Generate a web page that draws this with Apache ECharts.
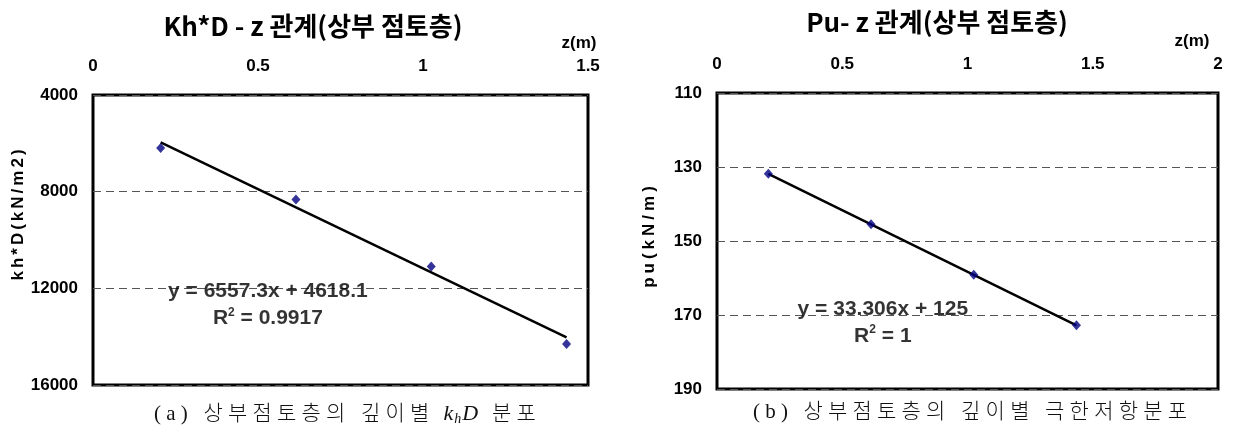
<!DOCTYPE html>
<html>
<head>
<meta charset="utf-8">
<script src="https://cdn.jsdelivr.net/npm/echarts@6/dist/echarts.min.js"></script>
<style>
  html, body { margin: 0; padding: 0; background: #fff; }
  #chart { width: 1234px; height: 439px; }
</style>
</head>
<body>
<div id="chart"></div>
<script>
// Depth of each measurement (m)
const zA = [0.205, 0.615, 1.025, 1.435];
const zB = [0.205, 0.615, 1.025, 1.435];
// kh*D (kN/m2) at each depth, upper clay layer
const khD = [6190, 8320, 11100, 14300];
// Ultimate resistance pu (kN/m) at each depth
const pu = [131.8, 145.5, 159.1, 172.8];
// Linear trend fits
const fitA = { slope: 6557.3, intercept: 4618.1, r2: '0.9917' };
const fitB = { slope: 33.306, intercept: 125, r2: '1' };
// Axis ticks
const zTicksA = { min: 0, max: 1.5, interval: 0.5 };
const zTicksB = { min: 0, max: 2, interval: 0.5 };
const khDTicks = { min: 4000, max: 16000, interval: 4000 };
const puTicks = { min: 110, max: 190, interval: 20 };

const titles = ['Kh*D - z 관계(상부 점토층)', 'Pu- z 관계(상부 점토층)'];
const yNames = ['kh*D(kN/m2)', 'pu(kN/m)'];

const sans = '"Liberation Sans", Arial, "Noto Sans CJK KR", sans-serif';
const titleFont = '"Noto Sans CJK KR", "Liberation Sans", sans-serif';
const serif = '"Liberation Serif", "Noto Sans CJK KR", serif';

function pairs(xs, ys) { return xs.map((x, i) => [x, ys[i]]); }
function trend(xs, fit) {
  const a = xs[0], b = xs[xs.length - 1];
  return [[a, fit.slope * a + fit.intercept], [b, fit.slope * b + fit.intercept]];
}
function eqText(fit) {
  const sign = fit.intercept >= 0 ? '+' : '-';
  return '{t|y = ' + fit.slope + 'x ' + sign + ' ' + Math.abs(fit.intercept) + '}\n{t|R}{sup|2}{t| = ' + fit.r2 + '}';
}
// One rich fragment per character so the glyphs are spread out
function spaced(text, style) {
  return text.split('').map(ch => '{' + style + '|' + ch + '}').join('');
}

const axisLabelStyle = { fontFamily: sans, fontWeight: 'bold', fontSize: 17, color: '#000' };
const eqRich = {
  t: { fontFamily: sans, fontWeight: 'bold', fontSize: 21, color: '#000', lineHeight: 27 },
  sup: { fontFamily: sans, fontWeight: 'bold', fontSize: 12, color: '#000', padding: [0, 0, 12, 0] }
};
const capRich = {
  c: { fontFamily: serif, fontWeight: 300, fontSize: 21, color: '#111', padding: [0, 2.6] },
  i: { fontFamily: '"Liberation Serif", serif', fontWeight: 'normal', fontStyle: 'italic', fontSize: 22, color: '#111', padding: [0, 1] },
  s: { fontFamily: '"Liberation Serif", serif', fontWeight: 'normal', fontStyle: 'italic', fontSize: 14, color: '#111', padding: [10, 0, 0, 0] }
};

function xAxis(idx, ticks, gap) {
  return {
    type: 'value', gridIndex: idx, position: 'top',
    min: ticks.min, max: ticks.max, interval: ticks.interval,
    axisLine: { show: false }, axisTick: { show: false }, splitLine: { show: false },
    axisLabel: Object.assign({ margin: 20 }, axisLabelStyle),
    name: 'z(m)', nameLocation: 'end', nameGap: gap,
    nameTextStyle: Object.assign({ align: 'center', verticalAlign: 'bottom', padding: [0, 0, 43, 0] }, axisLabelStyle)
  };
}
function yAxis(idx, ticks, name, gap, spread, shift) {
  return {
    type: 'value', gridIndex: idx, inverse: true,
    min: ticks.min, max: ticks.max, interval: ticks.interval,
    axisLine: { show: false }, axisTick: { show: false },
    splitLine: { show: true, lineStyle: { color: '#555', width: 1, type: [8, 5] } },
    axisLabel: Object.assign({ margin: 15, formatter: v => String(v) }, axisLabelStyle),
    name: spaced(name, 'n'), nameLocation: 'middle', nameRotate: 90, nameGap: gap,
    nameTextStyle: {
      padding: [0, 0, 0, shift],
      rich: { n: Object.assign({ padding: [0, spread] }, axisLabelStyle) }
    }
  };
}

const chart = echarts.init(document.getElementById('chart'), null, { renderer: 'canvas' });
chart.setOption({
  animation: false,
  backgroundColor: '#fff',
  title: [
    { text: titles[0], left: 308, top: 8, textAlign: 'center',
      textStyle: { fontFamily: titleFont, fontWeight: 'bold', fontSize: 26, color: '#000' } },
    { text: titles[1], left: 932, top: 4, textAlign: 'center',
      textStyle: { fontFamily: titleFont, fontWeight: 'bold', fontSize: 26, color: '#000' } },
    { text: spaced('(a) 상부점토층의 깊이별 ', 'c') + '{i|k}{s|h}{i|D}' + spaced(' 분포', 'c'),
      left: 340, top: 397, textAlign: 'center', textStyle: { rich: capRich } },
    { text: spaced('(b) 상부점토층의 깊이별 극한저항분포', 'c'),
      left: 965, top: 397, textAlign: 'center', textStyle: { rich: capRich } }
  ],
  grid: [
    { left: 93, right: 646, top: 95, bottom: 54, show: true, borderColor: '#000', borderWidth: 3 },
    { left: 717, right: 16, top: 93, bottom: 50, show: true, borderColor: '#000', borderWidth: 3 }
  ],
  xAxis: [xAxis(0, zTicksA, -9), xAxis(1, zTicksB, -26)],
  yAxis: [yAxis(0, khDTicks, yNames[0], 62, 1.5, 50), yAxis(1, puTicks, yNames[1], 59, 2, 8)],
  series: [
    { type: 'line', xAxisIndex: 0, yAxisIndex: 0, data: trend(zA, fitA), showSymbol: false,
      lineStyle: { color: '#000', width: 2.5 }, z: 2, silent: true },
    { type: 'scatter', xAxisIndex: 0, yAxisIndex: 0, data: pairs(zA, khD), symbol: 'diamond',
      symbolSize: [9, 10], itemStyle: { color: '#000080' }, z: 3 },
    { type: 'scatter', xAxisIndex: 0, yAxisIndex: 0, data: [[0.53, 12690]], symbolSize: 0, z: 4,
      label: { show: true, position: 'inside', formatter: eqText(fitA), rich: eqRich, align: 'center' } },
    { type: 'line', xAxisIndex: 1, yAxisIndex: 1, data: trend(zB, fitB), showSymbol: false,
      lineStyle: { color: '#000', width: 2.5 }, z: 2, silent: true },
    { type: 'scatter', xAxisIndex: 1, yAxisIndex: 1, data: pairs(zB, pu), symbol: 'diamond',
      symbolSize: [9, 10], itemStyle: { color: '#000080' }, z: 3 },
    { type: 'scatter', xAxisIndex: 1, yAxisIndex: 1, data: [[0.662, 172]], symbolSize: 0, z: 4,
      label: { show: true, position: 'inside', formatter: eqText(fitB), rich: eqRich, align: 'center' } }
  ]
});
</script>
</body>
</html>
